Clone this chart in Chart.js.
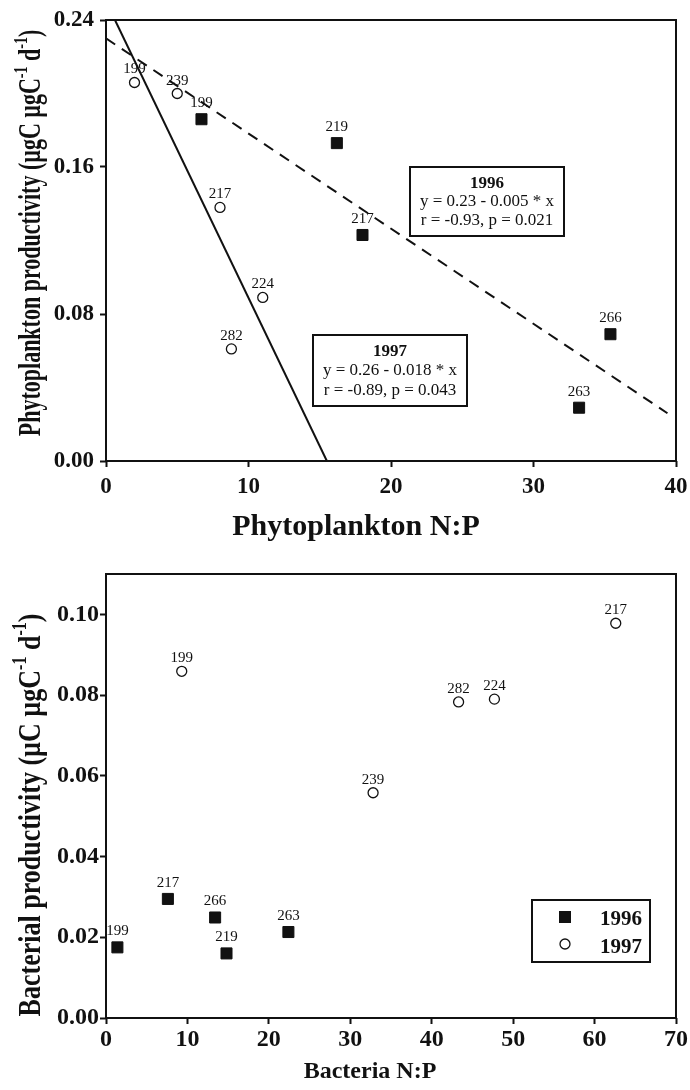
<!DOCTYPE html>
<html>
<head>
<meta charset="utf-8">
<script src="https://cdn.jsdelivr.net/npm/chart.js@4.4.1/dist/chart.umd.min.js"></script>
<style>
  body { margin: 0; background: #fff; }
  .panel { position: absolute; left: 0; }
</style>
</head>
<body>
<div class="panel" style="top:0"><canvas id="phyto" width="690" height="548"></canvas></div>
<div class="panel" style="top:545px"><canvas id="bact" width="690" height="545"></canvas></div>
<script>
const SERIF = "'Liberation Serif', 'Times New Roman', serif";
const INK = '#111';

// --- top panel: phytoplankton ---
const phytoTicksX = [0, 10, 20, 30, 40];
const phytoTicksY = [0, 0.08, 0.16, 0.24];

const phyto96X = [6.7, 16.2, 18.0, 35.4, 33.2];
const phyto96Y = [0.186, 0.173, 0.123, 0.069, 0.029];
const phyto96Days = ['199', '219', '217', '266', '263'];

const phyto97X = [2.0, 5.0, 8.0, 11.0, 8.8];
const phyto97Y = [0.206, 0.200, 0.138, 0.089, 0.061];
const phyto97Days = ['199', '239', '217', '224', '282'];

// regression lines as drawn (end points)
const fit96X = [0, 39.4];
const fit96Y = [0.23, 0.026];
const fit97X = [0.63, 15.5];
const fit97Y = [0.24, 0];

const eq1996 = ['1996', 'y = 0.23 - 0.005 * x', 'r = -0.93, p = 0.021'];
const eq1997 = ['1997', 'y = 0.26 - 0.018 * x', 'r = -0.89, p = 0.043'];

// --- bottom panel: bacteria ---
const bactTicksX = [0, 10, 20, 30, 40, 50, 60, 70];
const bactTicksY = [0, 0.02, 0.04, 0.06, 0.08, 0.10];

const bact96X = [1.4, 7.6, 13.4, 14.8, 22.4];
const bact96Y = [0.0175, 0.0295, 0.0249, 0.016, 0.0213];
const bact96Days = ['199', '217', '266', '219', '263'];

const bact97X = [9.3, 62.6, 43.3, 47.7, 32.8];
const bact97Y = [0.0859, 0.0978, 0.0783, 0.0790, 0.0558];
const bact97Days = ['199', '217', '282', '224', '239'];

const pts = (xs, ys) => xs.map((x, i) => ({ x, y: ys[i] }));

function axis(min, max, ticks, fontSize, pad, digits, size) {
    return {
        type: 'linear', min, max,
        afterBuildTicks: s => { s.ticks = ticks.map(v => ({ value: v })); },
        afterFit: s => {
            if (s.isHorizontal()) s.height = size; else s.width = size;
            // chart area is set by layout padding alone
            s.paddingLeft = s.paddingRight = s.paddingTop = s.paddingBottom = 0;
        },
        border: { display: false },
        grid: { drawOnChartArea: false, drawTicks: true, tickLength: 6, tickWidth: 2, tickColor: INK },
        ticks: {
            color: INK, padding: pad, maxRotation: 0, autoSkip: false,
            font: { family: SERIF, size: fontSize, weight: 'bold' },
            callback: v => v.toFixed(digits)
        }
    };
}

function squares(label, data, days) {
    return {
        type: 'scatter', label, data, pointLabels: days, labelOffset: 12,
        pointStyle: 'rect', pointRadius: 7.8, pointHoverRadius: 7.8,
        backgroundColor: INK, borderColor: INK, borderWidth: 1
    };
}

function circles(label, data, days) {
    return {
        type: 'scatter', label, data, pointLabels: days, labelOffset: 9,
        pointStyle: 'circle', pointRadius: 5, pointHoverRadius: 5,
        backgroundColor: '#fff', borderColor: INK, borderWidth: 1.3
    };
}

// text with superscript parts ('^-1')
function drawRich(ctx, parts, size, cx, base) {
    const big = 'bold ' + size + 'px ' + SERIF;
    const small = 'bold ' + Math.round(size * 0.62) + 'px ' + SERIF;
    let w = 0;
    parts.forEach(p => { ctx.font = p[0] === '^' ? small : big; w += ctx.measureText(p.replace('^', '')).width; });
    let x = cx - w / 2;
    ctx.textAlign = 'left';
    ctx.textBaseline = 'alphabetic';
    parts.forEach(p => {
        const sup = p[0] === '^';
        const t = p.replace('^', '');
        ctx.font = sup ? small : big;
        ctx.fillText(t, x, sup ? base - size * 0.42 : base);
        x += ctx.measureText(t).width;
    });
}

const frame = {
    id: 'frame',
    afterDraw(chart) {
        const { ctx } = chart;
        const { left, top, right, bottom } = chart.chartArea;
        ctx.save();
        ctx.lineWidth = 2;
        ctx.strokeStyle = INK;
        ctx.strokeRect(left, top, right - left, bottom - top);
        ctx.restore();
    }
};

const pointLabels = {
    id: 'pointLabels',
    afterDatasetsDraw(chart) {
        const { ctx } = chart;
        ctx.save();
        ctx.font = '15px ' + SERIF;
        ctx.fillStyle = INK;
        ctx.textAlign = 'center';
        ctx.textBaseline = 'alphabetic';
        chart.data.datasets.forEach((ds, i) => {
            if (!ds.pointLabels) return;
            chart.getDatasetMeta(i).data.forEach((pt, j) => {
                ctx.fillText(ds.pointLabels[j], pt.x, pt.y - ds.labelOffset);
            });
        });
        ctx.restore();
    }
};

function titles(xTitle, xSize, xCenter, xBase, yParts, ySize, yStretch, yCenter) {
    return {
        id: 'titles',
        afterDraw(chart) {
            const { ctx } = chart;
            ctx.save();
            ctx.fillStyle = INK;
            ctx.font = 'bold ' + xSize + 'px ' + SERIF;
            ctx.textAlign = 'center';
            ctx.fillText(xTitle, xCenter, xBase);
            ctx.translate(40, yCenter);
            ctx.rotate(-Math.PI / 2);
            ctx.scale(1, yStretch);
            drawRich(ctx, yParts, ySize, 0, 0);
            ctx.restore();
        }
    };
}

function eqBox(ctx, lines, x, y, w, h, bases) {
    ctx.save();
    ctx.fillStyle = '#fff';
    ctx.fillRect(x, y, w, h);
    ctx.lineWidth = 2;
    ctx.strokeStyle = INK;
    ctx.strokeRect(x, y, w, h);
    ctx.fillStyle = INK;
    ctx.textAlign = 'center';
    lines.forEach((t, i) => {
        ctx.font = (i === 0 ? 'bold ' : '') + '17px ' + SERIF;
        ctx.fillText(t, x + w / 2, bases[i]);
    });
    ctx.restore();
}

const eqBoxes = {
    id: 'eqBoxes',
    afterDraw(chart) {
        eqBox(chart.ctx, eq1996, 410, 167, 154, 69, [188, 206, 225]);
        eqBox(chart.ctx, eq1997, 313, 335, 154, 71, [356, 375, 395]);
    }
};

const yearLegend = {
    id: 'yearLegend',
    afterDraw(chart) {
        const { ctx } = chart;
        const ds = chart.data.datasets;
        ctx.save();
        ctx.fillStyle = '#fff';
        ctx.fillRect(532, 355, 118, 62);
        ctx.lineWidth = 2;
        ctx.strokeStyle = INK;
        ctx.strokeRect(532, 355, 118, 62);
        ctx.fillStyle = INK;
        ctx.fillRect(565 - 6, 372 - 6, 12, 12);
        ctx.beginPath();
        ctx.lineWidth = 1.3;
        ctx.arc(565, 399, 5, 0, Math.PI * 2);
        ctx.stroke();
        ctx.font = 'bold 21px ' + SERIF;
        ctx.textAlign = 'left';
        ctx.fillText(ds[0].label, 600, 380);
        ctx.fillText(ds[1].label, 600, 408);
        ctx.restore();
    }
};

const common = {
    responsive: false,
    animation: false,
    devicePixelRatio: 1,
    plugins: { legend: { display: false }, tooltip: { enabled: false } }
};

new Chart(document.getElementById('phyto'), {
    type: 'scatter',
    data: {
        datasets: [
            squares('1996', pts(phyto96X, phyto96Y), phyto96Days),
            circles('1997', pts(phyto97X, phyto97Y), phyto97Days),
            { type: 'line', data: pts(fit96X, fit96Y), borderColor: INK, borderWidth: 2, borderDash: [11, 8], pointRadius: 0, fill: false },
            { type: 'line', data: pts(fit97X, fit97Y), borderColor: INK, borderWidth: 2, pointRadius: 0, fill: false }
        ]
    },
    options: {
        ...common,
        layout: { padding: { left: 46, right: 14, top: 20, bottom: 47 } },
        scales: {
            x: axis(0, 40, phytoTicksX, 23, 6, 0, 40),
            y: axis(0, 0.24, phytoTicksY, 23, 6, 2, 60)
        }
    },
    plugins: [frame, pointLabels, eqBoxes,
        titles('Phytoplankton N:P', 30, 356, 535,
            ['Phytoplankton productivity (µgC µgC', '^-1', ' d', '^-1', ')'], 22, 1.4, 233)]
});

new Chart(document.getElementById('bact'), {
    type: 'scatter',
    data: {
        datasets: [
            squares('1996', pts(bact96X, bact96Y), bact96Days),
            circles('1997', pts(bact97X, bact97Y), bact97Days)
        ]
    },
    options: {
        ...common,
        layout: { padding: { left: 46, right: 14, top: 29, bottom: 32 } },
        scales: {
            x: axis(0, 70, bactTicksX, 24, 1, 0, 40),
            y: axis(0, 0.11, bactTicksY, 24, 1, 2, 60)
        }
    },
    plugins: [frame, pointLabels, yearLegend,
        titles('Bacteria N:P', 24, 370, 533,
            ['Bacterial productivity (µC µgC', '^-1', ' d', '^-1', ')'], 26, 1.25, 270)]
});
</script>
</body>
</html>
